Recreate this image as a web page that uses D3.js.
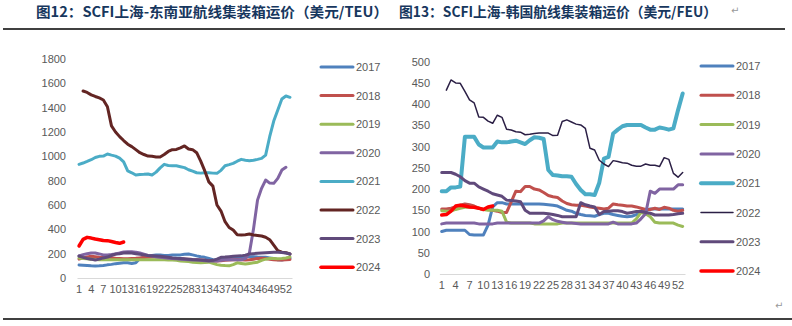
<!DOCTYPE html>
<html>
<head>
<meta charset="utf-8">
<script src="https://cdn.jsdelivr.net/npm/d3@7.9.0/dist/d3.min.js"></script>
<style>
  body { margin: 0; background: #fff; }
  svg { display: block; }
  .tick text { fill: #595959; font-family: "Liberation Sans", Arial, sans-serif; font-size: 11px; }
  .legend text { fill: #595959; font-family: "Liberation Sans", Arial, sans-serif; font-size: 11px; }
  .title { fill: #17375e; font-family: "Noto Sans CJK SC", sans-serif; font-weight: bold; font-size: 14px; }
</style>
</head>
<body>
<svg id="chart" width="792" height="326"></svg>
<script>
const years = ['2017', '2018', '2019', '2020', '2021', '2022', '2023', '2024'];
const weeks = d3.range(1, 54);
const weekLabels = d3.range(1, 53, 3);

// 上海-东南亚 (USD/TEU)
const sea2017 = [107,105,103,100,98,100,103,108,112,118,122,126,126,120,125,160,172,180,185,189,189,185,185,189,189,190,195,197,190,182,175,170,160,150,148,150,162,165,170,172,175,175,175,175,172,170,170,165,160,150,148,155,162];
const sea2018 = [155,165,172,178,175,170,168,165,165,162,160,158,158,160,162,165,168,170,172,172,170,168,165,162,160,158,156,155,152,150,148,145,142,140,140,142,145,148,150,152,150,148,150,155,160,162,160,155,150,148,148,150,152];
const sea2019 = [165,160,158,155,152,150,150,150,150,150,150,150,150,150,150,150,150,150,150,150,150,150,148,148,145,140,138,135,130,128,125,128,130,120,110,105,102,100,110,125,120,115,120,125,130,145,155,160,160,158,160,165,172];
const sea2020 = [181,192,200,206,205,198,190,190,193,197,205,214,216,216,212,205,195,185,180,175,170,166,163,160,158,155,152,150,148,148,145,142,140,140,140,145,150,152,150,150,150,160,205,400,640,737,805,780,778,819,887,910,null];
const sea2021 = [934,945,958,972,990,1000,1002,1019,1010,1002,985,955,880,865,846,850,852,855,846,870,905,934,925,923,923,915,907,890,878,865,862,866,866,862,860,885,923,932,942,960,975,968,964,968,975,983,1010,1161,1290,1380,1471,1496,1485];
const sea2022 = [null,1537,1525,1505,1492,1480,1463,1408,1250,1200,1162,1130,1100,1080,1055,1030,1015,1002,1000,995,995,1015,1040,1055,1057,1070,1085,1060,1055,1030,960,880,790,755,600,550,463,415,394,355,353,356,361,353,350,345,335,315,270,225,212,208,197];
const sea2023 = [181,170,160,155,148,155,165,172,185,197,200,205,208,205,200,195,190,185,183,181,178,175,170,165,162,160,158,155,152,150,148,145,142,145,155,170,172,175,178,180,182,188,197,200,203,206,208,210,212,212,210,205,197];
const sea2024 = [263,318,334,328,320,315,308,307,300,292,285,296];

// 上海-韩国 (USD/FEU)
const kor2017 = [100,103,103,103,103,103,93,92,92,92,115,158,168,168,165,165,165,165,165,165,165,165,164,163,162,160,155,150,148,143,140,138,137,136,140,143,143,140,138,136,135,136,140,147,150,153,153,153,153,153,153,153,153];
const kor2018 = [153,153,155,158,162,165,163,160,155,152,152,150,148,145,145,170,195,194,206,206,200,198,192,185,182,180,172,166,163,162,162,160,158,156,155,153,155,165,163,162,160,160,158,155,152,152,155,152,157,155,150,148,150];
const kor2019 = [149,148,148,152,155,157,157,157,155,152,150,150,150,148,122,120,120,120,120,120,118,118,118,118,118,118,120,120,120,120,120,120,120,120,120,120,120,120,120,120,120,120,130,145,142,135,122,120,120,120,120,115,112];
const kor2020 = [118,120,120,120,120,120,120,120,118,118,118,118,120,120,120,120,120,120,120,120,120,120,125,135,128,124,122,120,120,119,118,118,118,118,118,118,118,122,118,118,118,118,120,130,142,195,190,200,200,200,200,210,210];
const kor2021 = [195,195,204,204,206,323,323,323,305,298,298,298,312,310,310,312,314,310,306,315,322,321,318,245,233,232,230,230,229,212,198,188,188,186,215,272,276,331,340,348,351,351,351,351,345,340,340,345,343,340,343,386,425];
const kor2022 = [null,433,457,450,449,430,410,403,370,369,360,355,374,369,341,339,335,334,328,329,331,332,332,332,326,327,359,363,358,353,351,343,296,292,268,259,253,267,265,262,261,256,254,254,259,256,256,253,274,270,237,228,239];
const kor2023 = [239,239,239,235,229,220,214,214,205,200,195,189,186,183,174,173,172,170,150,143,143,143,143,142,140,138,135,135,135,135,168,163,160,158,140,147,148,149,149,147,143,145,147,147,145,143,139,139,139,139,140,142,143];
const kor2024 = [139,140,148,160,162,160,158,157,155,152,158,160];

const svg = d3.select('#chart');

function drawChart(cfg) {
  const x = d3.scaleBand().domain(weeks).range(cfg.xRange);
  const y = d3.scaleLinear().domain([0, cfg.yMax]).range(cfg.yRange);
  const cx = d => x(d) + x.bandwidth() / 2;

  const gx = svg.append('g')
    .attr('transform', `translate(0,${cfg.yRange[0]})`)
    .call(d3.axisBottom(x).tickValues(weekLabels).tickSize(0).tickPadding(7));
  gx.select('.domain').attr('stroke', '#d9d9d9');

  const gy = svg.append('g')
    .attr('transform', `translate(${cfg.yLabelX},0)`)
    .call(d3.axisLeft(y).ticks(cfg.yMax / cfg.yStep).tickFormat(d3.format('d')).tickSize(0).tickPadding(0));
  gy.select('.domain').remove();

  const line = d3.line()
    .defined(d => d[1] != null)
    .x(d => cx(d[0]))
    .y(d => y(d[1]));

  cfg.series.forEach((vals, i) => {
    svg.append('path')
      .datum(vals.map((v, j) => [weeks[j], v]))
      .attr('fill', 'none')
      .attr('stroke', cfg.colors[i])
      .attr('stroke-width', cfg.widths[i])
      .attr('stroke-linejoin', 'round')
      .attr('stroke-linecap', 'round')
      .attr('d', line);
  });

  const lg = svg.append('g').attr('class', 'legend');
  years.forEach((yr, i) => {
    const ly = cfg.legendY + i * cfg.legendStep;
    lg.append('line')
      .attr('x1', cfg.legendX).attr('x2', cfg.legendX + 32)
      .attr('y1', ly).attr('y2', ly)
      .attr('stroke', cfg.colors[i])
      .attr('stroke-width', cfg.widths[i])
      .attr('stroke-linecap', 'round');
    lg.append('text')
      .attr('x', cfg.legendX + 35).attr('y', ly + 4)
      .text(yr);
  });
}

drawChart({
  xRange: [77, 292], yRange: [278, 59], yMax: 1800, yStep: 200, yLabelX: 66,
  series: [sea2017, sea2018, sea2019, sea2020, sea2021, sea2022, sea2023, sea2024],
  colors: ['#4f81bd', '#c0504d', '#9bbb59', '#8064a2', '#4bacc6', '#632523', '#604a7b', '#ff0000'],
  widths: [3, 3, 3, 3, 3, 3, 3, 3.5],
  legendX: 321, legendY: 67, legendStep: 28.6
});

drawChart({
  xRange: [439.4, 685], yRange: [274, 61.7], yMax: 500, yStep: 50, yLabelX: 430,
  series: [kor2017, kor2018, kor2019, kor2020, kor2021, kor2022, kor2023, kor2024],
  colors: ['#4f81bd', '#c0504d', '#9bbb59', '#8064a2', '#4bacc6', '#2b1f45', '#604a7b', '#ff0000'],
  widths: [3, 3, 3, 3, 4, 1.5, 3, 3.5],
  legendX: 701, legendY: 66, legendStep: 29.3
});

// titles and page rules
svg.append('text').attr('class', 'title').attr('x', 36).attr('y', 17)
  .attr('textLength', 352).attr('lengthAdjust', 'spacingAndGlyphs')
  .text('图12：SCFI上海-东南亚航线集装箱运价（美元/TEU）');
svg.append('text').attr('class', 'title').attr('x', 399).attr('y', 17)
  .attr('textLength', 318).attr('lengthAdjust', 'spacingAndGlyphs')
  .text('图13：SCFI上海-韩国航线集装箱运价（美元/FEU）');
svg.append('text').attr('x', 731).attr('y', 14).attr('fill', '#999')
  .attr('font-size', 10).attr('font-family', 'DejaVu Sans').text('↵');
svg.append('text').attr('x', 775).attr('y', 309).attr('fill', '#999')
  .attr('font-size', 10).attr('font-family', 'DejaVu Sans').text('↵');

svg.append('line').attr('x1', 3).attr('x2', 785).attr('y1', 29).attr('y2', 29)
  .attr('stroke', '#000').attr('stroke-width', 1.5);
svg.append('line').attr('x1', 3).attr('x2', 792).attr('y1', 319).attr('y2', 319)
  .attr('stroke', '#000').attr('stroke-width', 1.5);
</script>
</body>
</html>
